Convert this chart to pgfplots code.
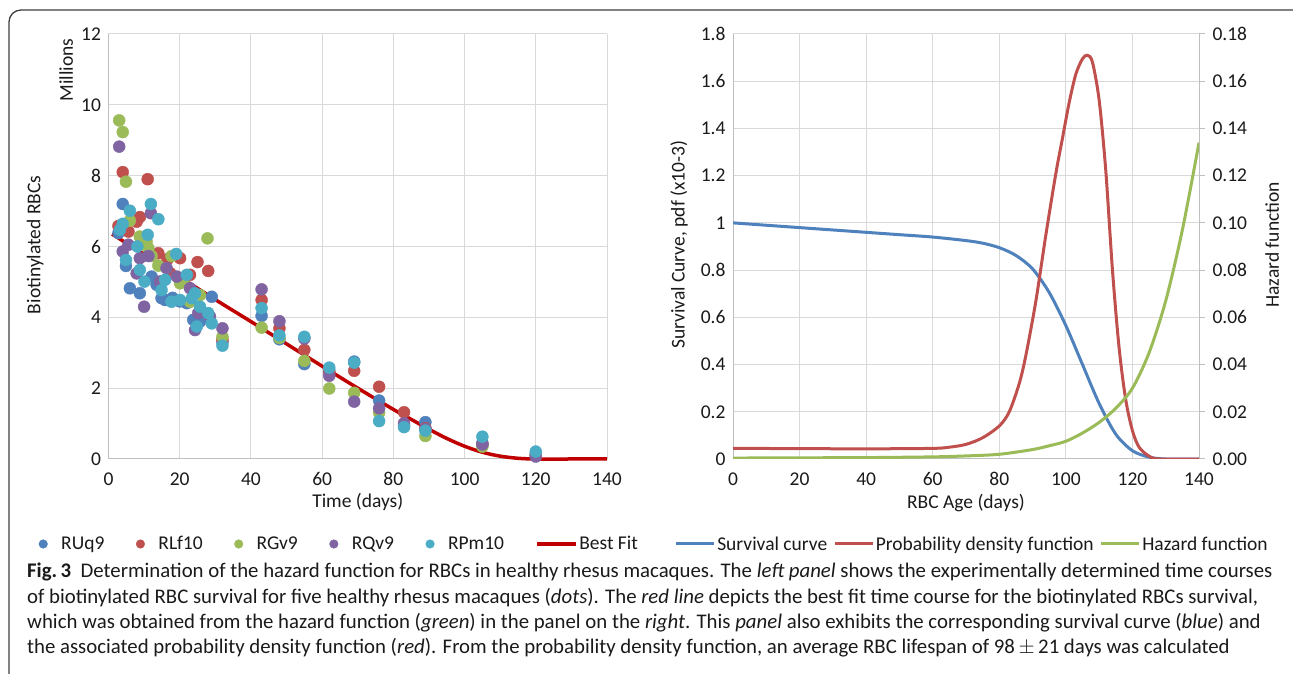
\documentclass[border=0pt]{standalone}
\usepackage{fontspec}
\setmainfont{Carlito}
\usepackage{pgfplots}
\pgfplotsset{compat=1.18}
\definecolor{cBlue}{HTML}{4F81BD}
\definecolor{cRed}{HTML}{C0504D}
\definecolor{cGreen}{HTML}{9BBB59}
\definecolor{cPurple}{HTML}{8064A2}
\definecolor{cCyan}{HTML}{4BACC6}
\definecolor{cFit}{HTML}{C00000}
\definecolor{gridc}{HTML}{D9D9D9}
\definecolor{axc}{HTML}{BFBFBF}
\definecolor{txt}{HTML}{1A1A1A}
\newcommand{\tf}{\fontsize{19.5}{22}\selectfont}
\newcommand{\cf}{\fontsize{20.8}{25}\selectfont}
\pgfplotsset{
  base/.style={scale only axis, anchor=south west, height=425pt,
    /pgf/number format/assume math mode=true,
    tick label style={font=\tf, text=txt},
    xticklabel style={yshift=-10pt},
    label style={font=\tf, text=txt},
    grid=major, major grid style={draw=gridc, line width=1pt},
    axis line style={draw=axc, line width=1pt},
    major tick length=0pt,
    legend style={draw=none, fill=none, font=\tf, text=txt, legend columns=-1,
      inner sep=0pt, nodes={inner sep=0pt}},
  },
  dot/.style={only marks, mark=*, mark size=6pt, color=#1,
    mark options={fill=#1, draw=#1},
    legend image code/.code={\draw[##1, mark size=4.3pt] plot coordinates {(4.5pt,0pt)};
      \path[draw=none, fill=none] (0pt,0pt) -- (22.5pt,0pt);}},
  lineleg/.style={legend image code/.code={\draw[##1] (0pt,0pt) -- (#1,0pt);
      \path[draw=none, fill=none] (0pt,0pt) -- ([xshift=3pt]#1,0pt);}},
}
\begin{document}
\begin{tikzpicture}[x=1pt,y=1pt]
\useasboundingbox (0,0) rectangle (1293,674);
\fill[white] (0,0) rectangle (1293,674);
\draw[line width=1.3pt, black!75] (1293,664) -- (21,664) arc[start angle=90, end angle=180, radius=12pt] -- (9,0);

% ---------------- left panel ----------------
\begin{axis}[base, at={(108.5pt,215pt)}, width=498.5pt,
  xmin=0, xmax=140, ymin=0, ymax=12,
  xtick={0,20,...,140}, ytick={0,2,4,6,8,10,12},
  yticklabel style={xshift=-4pt},
  axis lines*=left, clip=false,
  xlabel={Time (days)}, ylabel={Biotinylated RBCs},
  xlabel style={at={(axis description cs:0.5,-0.102)}, anchor=center},
  ylabel style={at={(axis description cs:-0.147,0.504)}, anchor=center},
  legend style={at={(axis description cs:-0.1404,-0.2)}, anchor=west,
    /tikz/every even column/.append style={column sep=31.5pt}},
]
\node[rotate=90, font=\tf, text=txt] at (axis description cs:-0.085,0.915) {Millions};
\addplot[dot=cBlue] coordinates {
(2.8,6.38)(4.0,7.20)(4.9,5.45)(6.0,4.82)(8.8,4.68)(12.1,5.15)(13.5,4.92)(14.9,4.54)
(15.9,4.49)(18,4.55)(20,4.45)(22.0,4.40)(23.8,3.93)(25.7,3.88)(29.0,4.58)(32,3.30)
(43,4.04)(48,3.38)(55,2.68)(62,2.50)(69,2.75)(76,1.65)(83,0.95)(89,1.04)(105,0.45)(120,0.15)};
\addlegendentry{RUq9}
\addplot[dot=cRed] coordinates {
(2.8,6.58)(4.0,8.10)(5.6,6.42)(7.9,6.70)(8.8,6.83)(11.0,7.90)(14.0,5.81)(16.6,5.64)
(17.3,5.25)(20.1,5.67)(22.9,5.20)(25.0,5.56)(28.0,5.31)(32,3.37)
(43,4.49)(48,3.69)(55,3.08)(62,2.45)(69,2.49)(76,2.04)(83,1.32)(89,0.87)(105,0.40)(120,0.12)};
\addlegendentry{RLf10}
\addplot[dot=cGreen] coordinates {
(3.0,9.56)(4.0,9.23)(4.9,7.83)(6.0,6.73)(8.8,6.28)(10.7,6.14)(11.2,5.95)(12.1,5.73)
(14.0,5.46)(17.7,5.73)(20.1,4.96)(21.0,5.01)(22.9,4.44)(25.7,4.63)(27.8,6.23)(32,3.45)
(43,3.71)(48,3.42)(55,2.77)(62,1.99)(69,1.87)(76,1.31)(83,0.92)(89,0.65)(105,0.35)(120,0.10)};
\addlegendentry{RGv9}
\addplot[dot=cPurple] coordinates {
(3.0,8.82)(4.0,5.86)(5.6,6.05)(7.9,5.24)(8.8,5.67)(10.0,4.30)(11.2,5.73)(11.9,6.94)
(14.5,5.01)(16.3,5.39)(19.2,5.15)(22.9,4.82)(24.3,3.64)(25.2,4.12)(28.5,4.02)(32,3.69)
(43,4.79)(48,3.89)(55,3.40)(62,2.35)(69,1.62)(76,1.43)(83,1.01)(89,0.85)(105,0.41)(120,0.07)};
\addlegendentry{RQv9}
\addplot[dot=cCyan] coordinates {
(3.2,6.47)(4.0,6.64)(4.9,5.62)(6.0,7.01)(8.1,6.00)(8.8,5.34)(10.1,5.01)(11.0,6.33)
(11.9,7.20)(14.0,6.77)(14.9,4.77)(15.9,5.06)(17.7,4.44)(19.0,5.79)(20.1,4.49)(22.0,5.20)
(23.4,4.54)(24.3,4.68)(24.8,3.74)(25.7,4.30)(28.0,4.12)(29.0,3.83)(32,3.20)
(43,4.26)(48,3.49)(55,3.45)(62,2.58)(69,2.72)(76,1.07)(83,0.90)(89,0.80)(105,0.63)(120,0.21)};
\addlegendentry{RPm10}
\addplot[cFit, line width=3.5pt, smooth, lineleg=39pt] coordinates {
(1,6.35)(10,5.78)(20,5.14)(30,4.50)(40,3.88)(50,3.25)(60,2.62)(70,2.00)(80,1.40)
(85,1.12)(90,0.84)(95,0.58)(100,0.36)(105,0.19)(110,0.08)(115,0.02)(120,0.0)(130,0)(140,0)};
\addlegendentry{Best Fit}
\end{axis}

% ---------------- right panel ----------------
\begin{axis}[base, at={(733pt,215pt)}, width=466pt,
  xmin=0, xmax=140, ymin=0, ymax=1.8,
  xtick={0,20,...,140}, ytick={0,0.2,0.4,0.6,0.8,1,1.2,1.4,1.6,1.8},
  yticklabel style={xshift=-4pt},
  axis lines*=left,
  xlabel={RBC Age (days)}, ylabel={Survival Curve, pdf (x10-3)},
  xlabel style={at={(axis description cs:0.5,-0.104)}, anchor=center},
  ylabel style={at={(axis description cs:-0.116,0.504)}, anchor=center},
]
\addplot[cBlue, line width=3pt, smooth] coordinates {
(0,1.000)(10,0.990)(20,0.980)(30,0.970)(40,0.960)(50,0.950)(60,0.940)(70,0.925)
(75,0.914)(80,0.895)(85,0.862)(90,0.805)(95,0.705)(100,0.565)(105,0.400)(110,0.235)
(115,0.105)(120,0.035)(125,0.008)(130,0.0)(140,0.0)};
\addplot[cRed, line width=3pt, smooth] coordinates {
(0,0.045)(20,0.044)(40,0.043)(60,0.045)(65,0.050)(70,0.062)(75,0.090)(80,0.140)
(83,0.200)(86,0.320)(88,0.440)(91,0.670)(94,0.950)(97,1.210)(99,1.360)(101,1.510)
(103,1.630)(105,1.695)(106.5,1.710)(108,1.680)(110,1.520)(112,1.220)(114,0.800)
(116,0.470)(118,0.250)(120,0.120)(122,0.050)(125,0.012)(128,0.0)(140,0.0)};
\end{axis}
\begin{axis}[base, at={(733pt,215pt)}, width=466pt,
  xmin=0, xmax=140, ymin=0, ymax=0.18,
  axis x line=none, axis y line*=right, grid=none,
  ytick={0,0.02,0.04,0.06,0.08,0.10,0.12,0.14,0.16,0.18},
  scaled y ticks=false,
  yticklabel style={xshift=4pt, /pgf/number format/.cd, fixed, fixed zerofill, precision=2},
  major tick length=6pt, tick align=outside, tick style={draw=axc, line width=1pt},
  ylabel={Hazard function},
  ylabel style={at={(axis description cs:1.157,0.504)}, anchor=center, rotate=0},
  legend style={at={(axis description cs:1.148,-0.2)}, anchor=east,
    /tikz/every even column/.append style={column sep=6pt}},
  lineleg=38pt,
]
\addlegendimage{cBlue, line width=3pt}
\addlegendentry{Survival curve}
\addlegendimage{cRed, line width=3pt}
\addlegendentry{Probability density function}
\addplot[cGreen, line width=3pt, smooth] coordinates {
(0,0.0004)(20,0.0005)(40,0.0006)(60,0.0009)(70,0.0013)(80,0.0020)(90,0.0040)(95,0.0056)
(100,0.0075)(105,0.0110)(110,0.0155)(115,0.0215)(120,0.0300)(125,0.0450)(130,0.0670)
(135,0.0970)(140,0.1340)};
\addlegendentry{Hazard function}
\end{axis}

% ---------------- caption ----------------
\begin{scope}[every node/.style={anchor=base west, inner sep=0pt, font=\cf, text=txt}]
\node at (27,96) {\textbf{Fig.\,3}\ \ Determination of the hazard function for RBCs in healthy rhesus macaques. The \textit{left panel} shows the experimentally determined time courses};
\node at (27,70.7) {of biotinylated RBC survival for five healthy rhesus macaques (\textit{dots}). The \textit{red line} depicts the best fit time course for the biotinylated RBCs survival,};
\node at (27,45.4) {which was obtained from the hazard function (\textit{green}) in the panel on the \textit{right}. This \textit{panel} also exhibits the corresponding survival curve (\textit{blue}) and};
\node at (27,20) {the associated probability density function (\textit{red}). From the probability density function, an average RBC lifespan of 98\,$\pm$\,21 days was calculated};
\end{scope}
\end{tikzpicture}
\end{document}
